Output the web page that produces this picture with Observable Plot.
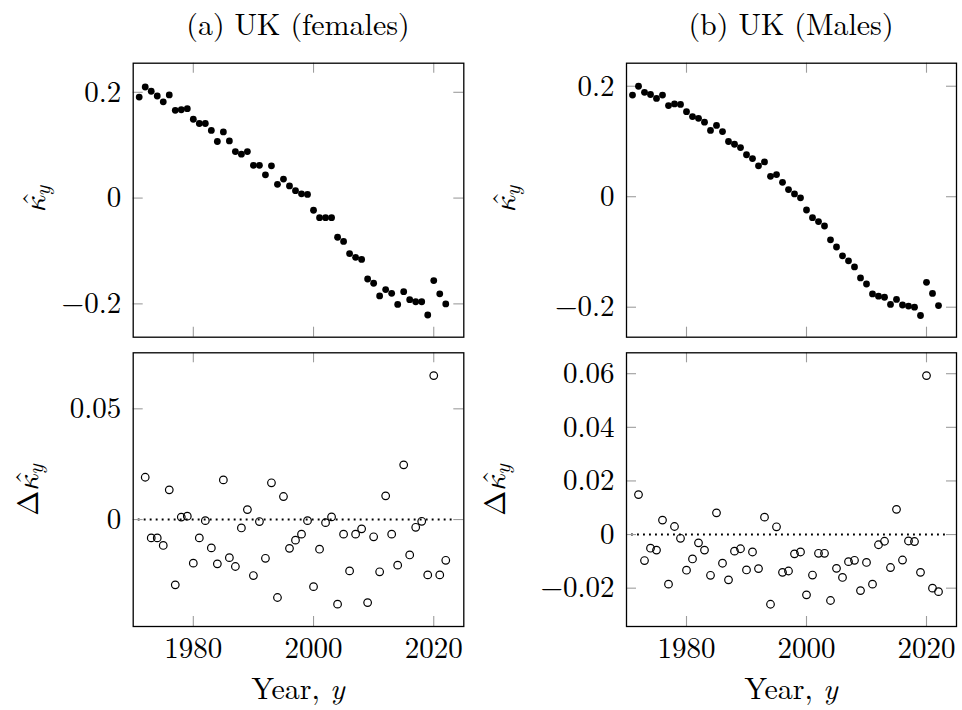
<!DOCTYPE html>
<html>
<head>
<meta charset="utf-8">
<script src="https://cdn.jsdelivr.net/npm/d3@7"></script>
<script src="https://cdn.jsdelivr.net/npm/@observablehq/plot@0.6"></script>
<style>
  body { margin: 0; background: #fff; }
  #chart { position: relative; width: 962px; height: 710px; background: #fff; color: #000;
           font-family: "Latin Modern Roman", "Liberation Serif", serif; overflow: hidden; }
  #chart svg { position: absolute; }
  #chart svg text { font-family: "Latin Modern Roman", "Liberation Serif", serif !important; font-size: 29px !important; }
  .t { position: absolute; font-size: 30px; line-height: 30px; white-space: nowrap; transform: translateX(-50%); }
  .xl { position: absolute; font-size: 30px; line-height: 40px; white-space: nowrap; transform: translateX(-50%); }
  .yl { position: absolute; font-size: 30px; line-height: 30px; white-space: nowrap;
        font-family: "Latin Modern Math", "Latin Modern Roman", "DejaVu Serif", serif;
        transform: translate(-50%, -50%) rotate(-90deg); }
  .hat { position: relative; display: inline-block; font-style: italic; }
  .hat .c { position: absolute; left: 0.2em; top: -0.12em; font-style: normal; font-family: "Latin Modern Roman", serif; }
  .sub { font-style: italic; font-size: 0.72em; position: relative; top: 0.25em; font-family: "Latin Modern Roman", serif; }
  .bl { display: inline-block; width: 0; height: 0; vertical-align: baseline; }
</style>
</head>
<body>
<div id="chart"></div>
<script>
// ---------- data ----------
const yearsKappa = [1971,1972,1973,1974,1975,1976,1977,1978,1979,1980,1981,1982,1983,1984,1985,1986,1987,1988,1989,1990,
  1991,1992,1993,1994,1995,1996,1997,1998,1999,2000,2001,2002,2003,2004,2005,2006,2007,2008,2009,2010,
  2011,2012,2013,2014,2015,2016,2017,2018,2019,2020,2021,2022];
const yearsDelta = [1972,1973,1974,1975,1976,1977,1978,1979,1980,1981,1982,1983,1984,1985,1986,1987,1988,1989,1990,
  1991,1992,1993,1994,1995,1996,1997,1998,1999,2000,2001,2002,2003,2004,2005,2006,2007,2008,2009,2010,
  2011,2012,2013,2014,2015,2016,2017,2018,2019,2020,2021,2022];

const femaleKappa = [0.191,0.210,0.202,0.193,0.182,0.195,0.166,0.167,0.169,0.149,
  0.141,0.141,0.128,0.107,0.125,0.108,0.088,0.083,0.088,0.062,
  0.062,0.044,0.061,0.026,0.036,0.023,0.014,0.008,0.007,-0.023,
  -0.037,-0.037,-0.037,-0.074,-0.082,-0.105,-0.112,-0.116,-0.153,-0.161,
  -0.185,-0.173,-0.180,-0.201,-0.177,-0.192,-0.196,-0.196,-0.221,-0.156,
  -0.181,-0.200];
const maleKappa = [0.184,0.200,0.189,0.185,0.178,0.184,0.165,0.168,0.167,0.154,
  0.145,0.142,0.135,0.120,0.129,0.118,0.100,0.095,0.089,0.076,
  0.069,0.056,0.063,0.037,0.040,0.026,0.013,0.005,-0.002,-0.024,
  -0.038,-0.045,-0.053,-0.078,-0.091,-0.107,-0.116,-0.127,-0.147,-0.158,
  -0.176,-0.180,-0.182,-0.195,-0.186,-0.196,-0.198,-0.200,-0.215,-0.155,
  -0.175,-0.197];
const femaleDelta = [0.0191,-0.0083,-0.0083,-0.0117,0.0134,-0.0295,0.0011,0.0015,-0.0197,-0.0083,
  -0.0005,-0.0128,-0.0200,0.0179,-0.0172,-0.0212,-0.0038,0.0045,-0.0253,-0.0009,
  -0.0175,0.0166,-0.0352,0.0104,-0.0130,-0.0093,-0.0066,-0.0005,-0.0303,-0.0134,
  -0.0014,0.0012,-0.0382,-0.0066,-0.0232,-0.0066,-0.0042,-0.0375,-0.0078,-0.0236,
  0.0107,-0.0066,-0.0206,0.0247,-0.0160,-0.0035,-0.0008,-0.0250,0.0650,-0.0250,
  -0.0184];
const maleDelta = [0.0149,-0.0097,-0.0051,-0.0058,0.0054,-0.0185,0.0030,-0.0014,-0.0133,-0.0091,
  -0.0031,-0.0058,-0.0152,0.0081,-0.0107,-0.0169,-0.0062,-0.0053,-0.0132,-0.0065,
  -0.0127,0.0065,-0.0260,0.0029,-0.0141,-0.0136,-0.0072,-0.0065,-0.0225,-0.0151,
  -0.0070,-0.0070,-0.0246,-0.0126,-0.0160,-0.0101,-0.0096,-0.0209,-0.0104,-0.0185,
  -0.0038,-0.0025,-0.0123,0.0094,-0.0095,-0.0024,-0.0026,-0.0141,0.0593,-0.0200,
  -0.0213];

const xTicks = [1980, 2000, 2020];
const xTickLabels = ["1980", "2000", "2020"];
const kappaTicks = [-0.2, 0, 0.2];
const kappaTickLabels = ["\u22120.2", "0", "0.2"];
const femaleDeltaTicks = [0, 0.05];
const femaleDeltaTickLabels = ["0", "0.05"];
const maleDeltaTicks = [-0.02, 0, 0.02, 0.04, 0.06];
const maleDeltaTickLabels = ["\u22120.02", "0", "0.02", "0.04", "0.06"];
const panelTitles = ["(a) UK (females)", "(b) UK (Males)"];

// ---------- drawing ----------
const chart = document.getElementById("chart");

function panel(o) {
  const iw = o.width - o.ml - o.mr, ih = o.height - o.mt - o.mb;
  const T = 10;
  const yLab = new Map(o.yTicks.map((v, i) => [v, o.yLabels[i]]));
  const xLab = new Map(xTicks.map((v, i) => [v, xTickLabels[i]]));
  const data = o.years.map((yr, i) => ({year: yr, value: o.values[i]}));
  const tickStyle = {stroke: "#9d9d9d", strokeWidth: 1.1};
  const marks = [
    o.zero ? Plot.ruleY([0], {stroke: "black", strokeWidth: 1.9, strokeDasharray: "1.9,4.1", insetLeft: 5, insetRight: 8}) : null,
    Plot.ruleX(xTicks, {x: d => d, ...tickStyle, insetTop: ih - T}),
    Plot.ruleX(xTicks, {x: d => d, ...tickStyle, insetBottom: ih - T}),
    Plot.ruleY(o.yTicks, {y: d => d, ...tickStyle, insetRight: iw - T}),
    Plot.ruleY(o.yTicks, {y: d => d, ...tickStyle, insetLeft: iw - T}),
    Plot.axisY(o.yTicks, {tickSize: 0, tickPadding: 12, tickFormat: d => yLab.get(d), label: null}),
    o.showX ? Plot.axisX(xTicks, {tickSize: 0, tickPadding: 11, tickFormat: d => xLab.get(d), label: null}) : null,
    o.filled
      ? Plot.dot(data, {x: "year", y: "value", r: 3.4, fill: "black", stroke: "none"})
      : Plot.dot(data, {x: "year", y: "value", r: 3.8, fill: "none", stroke: "black", strokeWidth: 1.2}),
    Plot.frame({stroke: "black", strokeWidth: 1.3})
  ].filter(Boolean);
  const svg = Plot.plot({
    width: o.width, height: o.height,
    marginLeft: o.ml, marginRight: o.mr, marginTop: o.mt, marginBottom: o.mb,
    x: {domain: [1970, 2025], label: null, axis: o.showX ? undefined : null},
    y: {domain: o.yDomain, label: null},
    style: {fontSize: "29px", background: "transparent", overflow: "visible"},
    marks
  });
  svg.style.left = o.left + "px";
  svg.style.top = o.top + "px";
  chart.appendChild(svg);
}

// top-left: female kappa
panel({left: 0, top: 0, width: 481, height: 345, ml: 132.7, mr: 17.7, mt: 62.7, mb: 8.3,
  years: yearsKappa, values: femaleKappa, yDomain: [-0.263, 0.255], yTicks: kappaTicks, yLabels: kappaTickLabels,
  filled: true, zero: false, showX: false});
// bottom-left: female delta
panel({left: 0, top: 345, width: 481, height: 365, ml: 132.7, mr: 17.7, mt: 7.3, mb: 84,
  years: yearsDelta, values: femaleDelta, yDomain: [-0.0483, 0.0753], yTicks: femaleDeltaTicks, yLabels: femaleDeltaTickLabels,
  filled: false, zero: true, showX: true});
// top-right: male kappa
panel({left: 481, top: 0, width: 481, height: 345, ml: 145, mr: 6, mt: 62.7, mb: 8.3,
  years: yearsKappa, values: maleKappa, yDomain: [-0.2543, 0.2417], yTicks: kappaTicks, yLabels: kappaTickLabels,
  filled: true, zero: false, showX: false});
// bottom-right: male delta
panel({left: 481, top: 345, width: 481, height: 365, ml: 145, mr: 6, mt: 7.3, mb: 84,
  years: yearsDelta, values: maleDelta, yDomain: [-0.0343, 0.0678], yTicks: maleDeltaTicks, yLabels: maleDeltaTickLabels,
  filled: false, zero: true, showX: true});

// ---------- text ----------
// title placed by its baseline; nudged down if its glyph box would leave the picture
function addTitle(html, cx, baseline) {
  const d = document.createElement("div");
  d.className = "t";
  d.innerHTML = html + '<span class="bl"></span>';
  d.style.left = cx + "px";
  d.style.top = "0px";
  chart.appendChild(d);
  const b = d.querySelector(".bl").offsetTop;
  let top = baseline - b;
  d.style.top = top + "px";
  const range = document.createRange();
  range.selectNodeContents(d);
  const r = range.getBoundingClientRect();
  const c = chart.getBoundingClientRect();
  if (r.top - c.top < 1) { top += 1 - (r.top - c.top); d.style.top = top + "px"; }
}
function addDiv(cls, html, left, top) {
  const d = document.createElement("div");
  d.className = cls;
  d.innerHTML = html;
  d.style.left = left + "px";
  d.style.top = top + "px";
  chart.appendChild(d);
}
const kappaHat = '<span class="hat">\u03BA<span class="c">\u02C6</span></span><span class="sub">y</span>';
addTitle(panelTitles[0], 298, 30);
addTitle(panelTitles[1], 791, 30);
addDiv("xl", 'Year, <i>y</i>', 298, 667);
addDiv("xl", 'Year, <i>y</i>', 791, 667);
addDiv("yl", kappaHat, 36, 199);
addDiv("yl", '\u0394' + kappaHat, 29, 490);
addDiv("yl", kappaHat, 506, 199);
addDiv("yl", '\u0394' + kappaHat, 496, 490);
</script>
</body>
</html>
